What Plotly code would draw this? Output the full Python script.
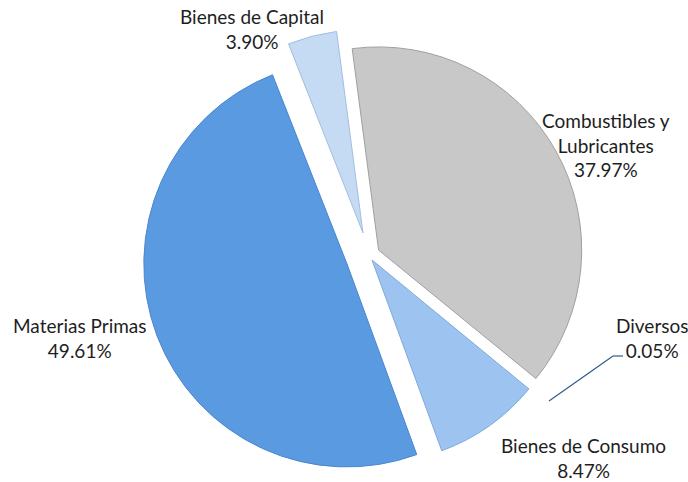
import plotly.graph_objects as go

# ---- data ----
labels = ["Bienes de Capital", "Combustibles y Lubricantes", "Diversos",
          "Bienes de Consumo", "Materias Primas"]
values = [3.90, 37.97, 0.05, 8.47, 49.61]
label_lines = ["Bienes de Capital", "Combustibles y<br>Lubricantes", "Diversos",
               "Bienes de Consumo", "Materias Primas"]

# ---- styling ----
colors = ["#C5DAF3", "#C8C8C8", "rgba(255,255,255,0)", "#9DC3F0", "#5A9AE0"]
edge_colors = ["#A3BEE0", "#A0A0A0", "rgba(255,255,255,0)", "#7FA8DA", "#4A86CF"]
pulls = [0.115, 0.055, 0.10, 0.027, 0.115]

W, H = 688, 482
cx, cy, half = 368.8, 255.5, 226.5

fig = go.Figure()
fig.add_trace(go.Pie(
    labels=labels,
    values=values,
    sort=False,
    direction="clockwise",
    rotation=-21.5,
    pull=pulls,
    textinfo="none",
    hoverinfo="skip",
    marker=dict(colors=colors, line=dict(color=edge_colors, width=1)),
    domain=dict(x=[(cx - half) / W, (cx + half) / W],
                y=[max(0, (H - cy - half) / H), (H - cy + half) / H]),
    showlegend=False,
))

# label placements (pixel centres of each text block)
label_pos = [(252, 29), (606, 145), (652, 338), (583, 458), (80, 338)]
for txt, v, (px, py) in zip(label_lines, values, label_pos):
    fig.add_annotation(
        x=px / W, y=1 - py / H, xref="paper", yref="paper",
        text=f"{txt}<br>{v:.2f}%", showarrow=False,
        xanchor="center", yanchor="middle", align="center",
        font=dict(family="Lato", size=19, color="#1E1E1E"),
    )

# leader line for Diversos
fig.add_shape(type="line", xref="paper", yref="paper",
              x0=549 / W, y0=1 - 401 / H, x1=613 / W, y1=1 - 356 / H,
              line=dict(color="#2E5C8A", width=1.2))
fig.add_shape(type="line", xref="paper", yref="paper",
              x0=613 / W, y0=1 - 356 / H, x1=623 / W, y1=1 - 356 / H,
              line=dict(color="#2E5C8A", width=1.2))

fig.update_layout(
    width=W, height=H,
    margin=dict(l=0, r=0, t=0, b=0),
    paper_bgcolor="white", plot_bgcolor="white",
)

fig.write_html("out.html")
